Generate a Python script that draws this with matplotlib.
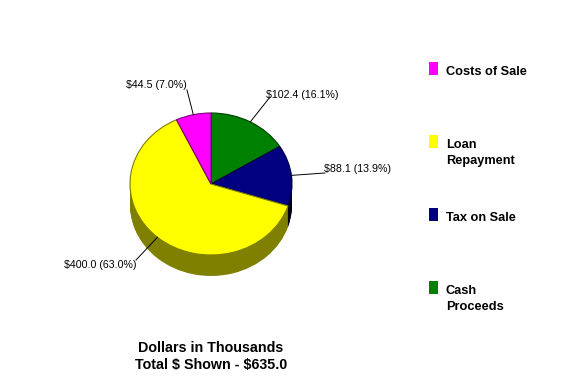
import numpy as np
import matplotlib
matplotlib.use('Agg')
import matplotlib.pyplot as plt

plt.rcParams['font.family'] = ['Liberation Sans', 'DejaVu Sans']
plt.rcParams['text.parse_math'] = False

# clockwise from 12 o'clock
names = ['Cash\nProceeds', 'Tax on Sale', 'Loan\nRepayment', 'Costs of Sale']
values = [102.4, 88.1, 400.0, 44.5]
pct_labels = ['$102.4 (16.1%)', '$88.1 (13.9%)', '$400.0 (63.0%)', '$44.5 (7.0%)']
colors = ['#008000', '#000080', '#ffff00', '#ff00ff']
side_colors = ['#004000', '#000010', '#808000', '#800080']
edge_colors = ['#004000', '#000040', '#808000', '#800080']

# label baselines, pixels from top left
label_pos = [(266, 98), (324, 172), (64, 268), (126, 88)]
leader_end = [(270, 97), (325, 173), (136, 260), (187, 90)]
legend_order = [3, 2, 1, 0]
legend_y = [62, 135, 208, 281]

W, H = 574, 382
cx, cy = 211, 184
rx, ry = 81, 71
depth = 21

fig = plt.figure(figsize=(W / 100, H / 100), dpi=100, facecolor='white')

ax = fig.add_axes([0, 0, 1, 1])
# side of the pie, stacked copies from the bottom up
for k in range(depth, 0, -1):
    ax.pie(values, colors=side_colors, startangle=90, counterclock=False,
           center=(0, -k / ry), radius=1, wedgeprops={'linewidth': 0})
wedges, _ = ax.pie(values, colors=colors, startangle=90, counterclock=False,
                   center=(0, 0), radius=1,
                   wedgeprops={'linewidth': 0.8})
for w, ec in zip(wedges, edge_colors):
    w.set_edgecolor(ec)
ax.set_aspect('auto')
ax.set_xlim(-cx / rx, (W - cx) / rx)
ax.set_ylim(-(H - cy) / ry, cy / ry)
ax.axis('off')

# overlay in pixels for the texts
ov = fig.add_axes([0, 0, 1, 1], facecolor='none')
ov.set_xlim(0, W)
ov.set_ylim(H, 0)
ov.axis('off')

for w, txt, pos, end in zip(wedges, pct_labels, label_pos, leader_end):
    mid = np.radians((w.theta1 + w.theta2) / 2)
    x0 = cx + rx * np.cos(mid)
    y0 = cy - ry * np.sin(mid)
    ov.plot([x0, end[0]], [y0, end[1]], color='black', lw=0.7)
    ov.text(pos[0], pos[1], txt, fontsize=7.7, color='black', va='baseline', ha='left')

for i, y in zip(legend_order, legend_y):
    ov.add_patch(plt.Rectangle((429, y), 9, 13, facecolor=colors[i], edgecolor='none'))
    for n, line in enumerate(names[i].split('\n')):
        ov.text(446, y + 13 + 16 * n, line, fontsize=9.2, fontweight='bold', color='black',
                va='baseline', ha='left')

ov.text(211, 352, 'Dollars in Thousands', fontsize=10.3, fontweight='bold', ha='center', va='baseline')
ov.text(211, 369, 'Total $ Shown - $635.0', fontsize=10.3, fontweight='bold', ha='center', va='baseline')

fig.savefig('out.png', dpi=100)
